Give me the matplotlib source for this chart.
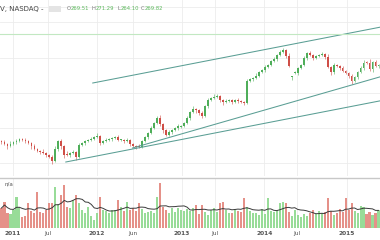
import matplotlib.pyplot as plt
import numpy as np
import pandas as pd

# weekly candles (price units are arbitrary but anchored on the last close)
closes = [154.3, 151.3, 148.3, 151.3, 154.3, 155.8, 158.8, 157.3, 155.8, 152.8,
          148.3, 143.8, 140.8, 139.3, 137.8, 134.8, 131.8, 125.8, 143.8, 155.8,
          148.3, 134.8, 134.8, 137.8, 139.3, 131.8, 149.8, 152.8, 155.8, 157.3,
          158.8, 161.8, 163.3, 152.8, 155.8, 157.3, 158.8, 160.3, 161.8, 157.3,
          157.3, 155.8, 157.3, 151.3, 148.3, 146.8, 146.8, 155.8, 161.8, 167.8,
          175.3, 182.8, 190.3, 181.3, 172.3, 164.8, 169.3, 172.3, 175.3, 178.3,
          178.3, 182.8, 190.3, 199.3, 203.8, 202.3, 197.8, 193.3, 208.3, 217.3,
          220.3, 221.8, 223.3, 217.3, 214.3, 215.8, 217.3, 214.3, 217.3, 215.8,
          214.3, 212.8, 245.8, 248.8, 250.3, 253.3, 259.3, 262.3, 266.8, 269.8,
          275.8, 278.8, 284.8, 289.3, 292.3, 283.3, 268.3, 251.8, 257.8, 265.3,
          269.8, 280.3, 287.8, 284.8, 280.3, 283.3, 284.8, 286.3, 281.8, 266.8,
          259.3, 269.8, 268.3, 265.3, 260.8, 257.8, 253.3, 245.8, 251.8, 259.3,
          265.3, 272.8, 272.8, 263.8, 274.3, 268.3, 269.8]
opens = [155.8, 154.3, 151.3, 148.3, 151.3, 154.3, 155.8, 158.8, 157.3, 155.8,
         152.8, 148.3, 143.8, 140.8, 139.3, 137.8, 134.8, 131.8, 125.8, 143.8,
         155.8, 148.3, 136.3, 134.8, 137.8, 139.3, 131.8, 149.8, 152.8, 155.8,
         157.3, 158.8, 161.8, 163.3, 152.8, 155.8, 157.3, 158.8, 160.3, 161.8,
         157.3, 157.3, 155.8, 157.3, 151.3, 148.3, 148.3, 146.8, 155.8, 161.8,
         167.8, 175.3, 182.8, 190.3, 181.3, 172.3, 164.8, 169.3, 172.3, 175.3,
         176.8, 178.3, 182.8, 190.3, 199.3, 203.8, 202.3, 197.8, 193.3, 208.3,
         217.3, 220.3, 221.8, 223.3, 217.3, 214.3, 215.8, 217.3, 214.3, 217.3,
         215.8, 214.3, 212.8, 245.8, 248.8, 250.3, 253.3, 259.3, 262.3, 266.8,
         269.8, 275.8, 278.8, 284.8, 289.3, 292.3, 283.3, 251.8, 257.8, 257.8,
         265.3, 269.8, 280.3, 287.8, 284.8, 280.3, 283.3, 284.8, 286.3, 281.8,
         266.8, 259.3, 269.8, 268.3, 265.3, 260.8, 257.8, 253.3, 245.8, 251.8,
         259.3, 265.3, 274.3, 272.8, 263.8, 274.3, 268.3]
# wick lengths above / below the body
wick_hi = [2, 3, 1, 4, 2, 3, 2, 1, 3, 2, 1, 3, 2, 2, 4, 1, 2, 3, 4, 2,
           3, 2, 4, 1, 3, 2, 3, 2, 1, 2, 3, 2, 4, 2, 1, 3, 2, 1, 2, 3,
           2, 1, 3, 2, 2, 1, 3, 2, 1, 2, 3, 2, 3, 4, 2, 1, 3, 2, 2, 3,
           1, 2, 3, 2, 4, 2, 1, 3, 2, 3, 2, 4, 3, 2, 1, 3, 2, 2, 1, 3,
           2, 1, 3, 2, 2, 4, 2, 1, 3, 2, 2, 3, 2, 3, 3, 2, 4, 2, 3, 2,
           1, 3, 2, 3, 2, 1, 2, 3, 2, 4, 2, 3, 1, 2, 3, 2, 2, 3, 1, 2,
           3, 4, 2, 6, 2, 3, 2]
wick_lo = [3, 2, 4, 1, 2, 3, 1, 2, 3, 2, 4, 2, 1, 3, 2, 3, 2, 4, 2, 3,
           4, 5, 2, 3, 2, 4, 2, 1, 3, 2, 2, 1, 2, 3, 2, 1, 2, 3, 2, 1,
           2, 3, 2, 3, 2, 3, 2, 1, 2, 3, 1, 2, 2, 3, 4, 2, 1, 3, 2, 3,
           2, 1, 2, 3, 2, 4, 3, 3, 2, 3, 1, 2, 2, 3, 4, 2, 1, 3, 2, 3,
           2, 3, 1, 2, 3, 2, 1, 2, 3, 2, 1, 2, 3, 2, 2, 3, 2, 5, 2, 3,
           2, 1, 3, 2, 3, 2, 2, 1, 3, 2, 4, 3, 2, 3, 2, 2, 3, 4, 2, 3,
           2, 3, 2, 3, 4, 2, 3]
volumes = [20, 26, 15, 14, 18, 31, 21, 11, 12, 25, 17, 15, 36, 16, 15, 18, 25, 25, 41, 24,
           33, 43, 21, 20, 28, 33, 25, 18, 15, 21, 12, 8, 15, 31, 18, 17, 15, 18, 18, 28,
           21, 17, 26, 18, 20, 17, 25, 19, 15, 16, 17, 15, 31, 45, 21, 18, 15, 20, 16, 20,
           18, 17, 19, 17, 20, 23, 14, 23, 16, 13, 18, 20, 16, 25, 26, 18, 15, 15, 19, 17,
           16, 30, 21, 17, 15, 15, 13, 19, 14, 30, 17, 16, 18, 25, 26, 25, 16, 12, 18, 13,
           11, 14, 12, 15, 18, 14, 17, 15, 16, 30, 17, 13, 15, 19, 16, 30, 18, 25, 17, 15,
           22, 21, 14, 16, 13, 15, 18]

tick_pos = [3.8, 15.5, 31.8, 43.8, 60.2, 71.2, 87.8, 98.8, 115.5]
tick_labels = ["2011", "Jul", "2012", "Jun", "2013", "Jul", "2014", "Jul", "2015"]

# drawn trend lines: (start index, start price, end index, end price)
trend_lines = [(30.5, 242.8, 126.5, 326.5),
               (43.8, 145.3, 126.5, 252.0),
               (21.5, 124.3, 126.5, 216.0)]
level_line = 316.3
grid_prices = [356.8, 334.3, 280.3, 227.8, 175.3, 122.8]

up_col = "#4fae5a"
dn_col = "#cf4e47"
vol_up = "#98dc98"
vol_dn = "#e59189"
grid_col = "#ececec"

fig = plt.figure(figsize=(3.8, 2.4), dpi=100)
ax = fig.add_axes([0, 1 - 176 / 240, 1, 176 / 240])
axv = fig.add_axes([0, 1 - 228 / 240, 1, 50 / 240])

x = np.arange(len(closes))
o = np.array(opens)
c = np.array(closes)
up = c >= o
cols = np.where(up, up_col, dn_col)

hi = np.maximum(o, c) + np.array(wick_hi)
lo = np.minimum(o, c) - np.array(wick_lo)
ax.vlines(x, lo, hi, colors=cols, lw=0.5, alpha=0.8)
body = np.where(np.abs(c - o) < 0.8, 0.8, c - o)
ax.bar(x, body, bottom=o, width=0.6, color=cols, linewidth=0)

for x0, y0, x1, y1 in trend_lines:
    ax.plot([x0, x1], [y0, y1], color="#5a9e94", lw=0.75)

ax.axhline(level_line, color="#c2e8c2", lw=0.8)

ax.set_xlim(-0.5, 126.5)
ax.set_ylim(103.3, 367.3)
for t in tick_pos:
    ax.axvline(t, color=grid_col, lw=0.6, zorder=0)
for g in grid_prices:
    ax.axhline(g, color=grid_col, lw=0.6, zorder=0)
ax.set_xticks([])
ax.set_yticks([])
for s in ax.spines.values():
    s.set_visible(False)

# volume pane
v = np.array(volumes)
axv.bar(x, v, width=0.7, color=np.where(up, vol_up, vol_dn), linewidth=0)
ma = pd.Series(volumes).rolling(10, min_periods=1).mean()
axv.plot(x, ma, color="#3a3a3a", lw=0.7)
axv.set_xlim(-0.5, 126.5)
axv.set_ylim(0, 50)
for t in tick_pos:
    axv.axvline(t, color=grid_col, lw=0.6, zorder=0)
axv.set_yticks([])
axv.set_xticks(tick_pos)
axv.set_xticklabels(tick_labels, fontsize=4.2, color="#555555")
for lab in axv.get_xticklabels():
    if lab.get_text().isdigit():
        lab.set_fontweight("bold")
axv.tick_params(axis="x", length=0, pad=2.5)
for s in axv.spines.values():
    s.set_visible(False)
axv.spines["top"].set_visible(True)
axv.spines["top"].set_color("#c8c8c8")
axv.spines["top"].set_linewidth(1.0)
axv.text(0.012, 0.84, "n/a", transform=axv.transAxes, fontsize=4, color="#555555")

# header
hy = 1 - 9 / 240
fig.text(0.0, hy, "V, NASDAQ -", fontsize=5, color="#444444", va="center")
fig.patches.append(plt.Rectangle((49 / 380, 1 - 12 / 240), 12 / 380, 6 / 240,
                                 transform=fig.transFigure, color="#e4e4e4", lw=0))
for lx, lab, nx, num in [(67, "O", 71, "269.51"), (92, "H", 96, "271.29"),
                         (117, "L", 120.5, "264.10"), (141, "C", 145, "269.82")]:
    fig.text(lx / 380, hy, lab, fontsize=3.8, color="#777777", va="center")
    fig.text(nx / 380, hy, num, fontsize=3.8, color="#5cb85c", va="center")

fig.savefig("out.png", dpi=100)
